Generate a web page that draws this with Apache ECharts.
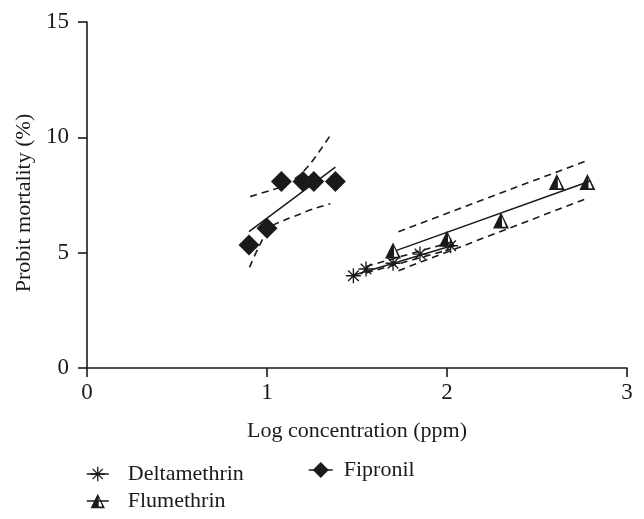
<!DOCTYPE html>
<html>
<head>
<meta charset="utf-8">
<script src="https://cdn.jsdelivr.net/npm/echarts@6/dist/echarts.min.js"></script>
<style>
html,body{margin:0;padding:0;background:#fff;}
#chart{width:644px;height:519px;}
</style>
</head>
<body>
<div id="chart"></div>
<script>
// ---- data ----
const seriesNames = ['Deltamethrin', 'Flumethrin', 'Fipronil'];
const xTicks = [0, 1, 2, 3];
const yTicks = [0, 5, 10, 15];

const deltaX = [1.48, 1.55, 1.70, 1.85, 2.02];
const deltaY = [4.00, 4.29, 4.54, 4.94, 5.30];
const deltaFitX = [1.48, 2.04];
const deltaFitY = [4.02, 5.33];
const deltaUpX = [1.55, 2.02];
const deltaUpY = [4.40, 5.45];
const deltaLoX = [1.55, 2.02];
const deltaLoY = [4.12, 5.15];

const fluX = [1.70, 2.00, 2.30, 2.61, 2.78];
const fluY = [5.09, 5.60, 6.39, 8.06, 8.06];
const fluFitX = [1.72, 2.80];
const fluFitY = [5.10, 8.12];
const fluUpX = [1.73, 2.79];
const fluUpY = [5.91, 9.03];
const fluLoX = [1.73, 2.78];
const fluLoY = [4.22, 7.36];

const fipX = [0.90, 1.00, 1.08, 1.20, 1.26, 1.38];
const fipY = [5.33, 6.06, 8.09, 8.09, 8.09, 8.09];
const fipFitX = [0.90, 1.38];
const fipFitY = [5.91, 8.71];
const fipUpX = [0.907, 1.018, 1.074, 1.167, 1.241, 1.352];
const fipUpY = [7.43, 7.70, 7.84, 8.27, 8.86, 10.09];
const fipLoX = [0.903, 0.953, 1.018, 1.093, 1.185, 1.259, 1.352];
const fipLoY = [4.36, 5.23, 6.10, 6.39, 6.68, 6.90, 7.12];

// ---- helpers ----
function pairs(xs, ys) { return xs.map((x, i) => [x, ys[i]]); }

function asteriskPath() {
  const c = 10, L = 10, t = 0.9;
  let d = '';
  [0, 45, 90, 135].forEach(a => {
    const r = a * Math.PI / 180;
    const ux = Math.cos(r), uy = Math.sin(r);
    const nx = -uy, ny = ux;
    const p = [
      [c - ux * L + nx * t, c - uy * L + ny * t],
      [c + ux * L + nx * t, c + uy * L + ny * t],
      [c + ux * L - nx * t, c + uy * L - ny * t],
      [c - ux * L - nx * t, c - uy * L - ny * t]
    ];
    d += 'M' + p.map(q => q[0].toFixed(2) + ' ' + q[1].toFixed(2)).join(' L') + ' Z ';
  });
  return 'path://' + d;
}
// solid triangle with a narrow white sliver right of centre
const triPath = 'path://M10 0 L20 20 L0 20 Z M11.3 5.5 L11.3 17.8 L16.4 17.8 Z';

const FONT = 'Liberation Serif';
const INK = '#1a1a1a';

function fitLine(data) {
  return { type: 'line', data: data, showSymbol: false, symbol: 'none', silent: true,
    lineStyle: { color: INK, width: 1.5, type: 'solid' }, z: 2 };
}
function bandLine(data, smooth) {
  return { type: 'line', data: data, showSymbol: false, symbol: 'none', silent: true, smooth: smooth ? 0.3 : false,
    lineStyle: { color: INK, width: 1.6, type: [7, 5] }, z: 2 };
}
function markers(name, data, symbol, size) {
  return { name: name, type: 'line', data: data, symbol: symbol, symbolSize: size, showSymbol: true,
    lineStyle: { opacity: 0, width: 0 }, itemStyle: { color: INK, opacity: 1 }, z: 5 };
}

const chart = echarts.init(document.getElementById('chart'), null, { renderer: 'canvas' });
chart.setOption({
  animation: false,
  backgroundColor: '#fff',
  grid: { left: 87, right: 17, top: 22, bottom: 151, containLabel: false },
  xAxis: {
    type: 'value', min: xTicks[0], max: xTicks[xTicks.length - 1], interval: 1,
    name: 'Log concentration (ppm)', nameLocation: 'middle', nameGap: 52,
    nameTextStyle: { fontFamily: FONT, fontSize: 22, color: INK },
    axisLine: { show: true, lineStyle: { color: INK, width: 1.6 } },
    axisTick: { show: true, length: 9, lineStyle: { color: INK, width: 1.6 } },
    axisLabel: { fontFamily: FONT, fontSize: 23, color: INK, margin: 13 },
    splitLine: { show: false }
  },
  yAxis: {
    type: 'value', min: yTicks[0], max: yTicks[yTicks.length - 1], interval: 5,
    name: 'Probit mortality (%)', nameLocation: 'middle', nameGap: 50, nameRotate: 90,
    nameTextStyle: { fontFamily: FONT, fontSize: 22, color: INK, padding: [0, 16, 0, 0] },
    axisLine: { show: true, lineStyle: { color: INK, width: 1.6 } },
    axisTick: { show: true, length: 9, lineStyle: { color: INK, width: 1.6 } },
    axisLabel: { fontFamily: FONT, fontSize: 23, color: INK, margin: 18 },
    splitLine: { show: false }
  },
  legend: [
    { data: [seriesNames[0], seriesNames[1]], orient: 'vertical', left: 86, top: 463, height: 60,
      itemWidth: 22, itemHeight: 18, itemGap: 5, padding: 0,
      lineStyle: { color: INK, width: 1.5, opacity: 1, type: 'solid' },
      itemStyle: { color: INK, opacity: 1 },
      textStyle: { fontFamily: FONT, fontSize: 22, lineHeight: 20, color: INK, padding: [0, 0, 0, 14] } },
    { data: [seriesNames[2]], orient: 'vertical', left: 308, top: 459, padding: 0,
      itemWidth: 24, itemHeight: 20,
      lineStyle: { color: INK, width: 1.5, opacity: 1, type: 'solid' },
      itemStyle: { color: INK, opacity: 1 },
      textStyle: { fontFamily: FONT, fontSize: 22, lineHeight: 20, color: INK, padding: [0, 0, 0, 6] } }
  ],
  series: [
    fitLine(pairs(deltaFitX, deltaFitY)),
    bandLine(pairs(deltaUpX, deltaUpY)),
    bandLine(pairs(deltaLoX, deltaLoY)),
    fitLine(pairs(fluFitX, fluFitY)),
    bandLine(pairs(fluUpX, fluUpY)),
    bandLine(pairs(fluLoX, fluLoY)),
    fitLine(pairs(fipFitX, fipFitY)),
    bandLine(pairs(fipUpX, fipUpY), true),
    bandLine(pairs(fipLoX, fipLoY), true),
    markers(seriesNames[0], pairs(deltaX, deltaY), asteriskPath(), 15),
    markers(seriesNames[1], pairs(fluX, fluY), triPath, [16, 16]),
    markers(seriesNames[2], pairs(fipX, fipY), 'diamond', 21)
  ]
});
</script>
</body>
</html>
